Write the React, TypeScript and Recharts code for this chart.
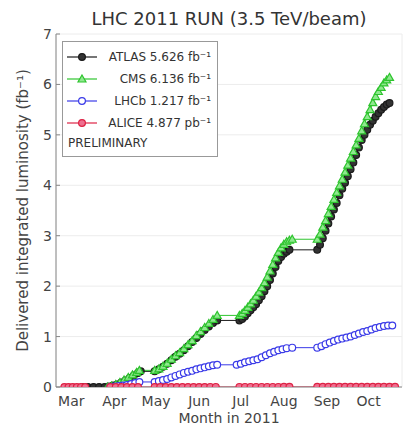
import React from "react";
import { LineChart, Line, XAxis, YAxis, CartesianGrid, Legend, Label } from "recharts";

// x values are day-of-year in 2011
const monthStarts = [91, 121, 152, 182, 213, 244, 274, 305];
const monthMids = [74, 105, 135, 166, 196, 227, 258, 288];
const monthNames = ["Mar", "Apr", "May", "Jun", "Jul", "Aug", "Sep", "Oct"];
const yTicks = [0, 1, 2, 3, 4, 5, 6, 7];

const atlasDays = [82, 86, 90, 94, 98, 101, 104, 107, 110, 113, 116, 119, 122, 124, 134, 137, 140, 143, 146, 149, 152, 155, 158, 161, 164, 167, 170, 173, 176, 179, 195, 197, 199, 201, 203, 205, 207, 209, 211, 213, 215, 217, 219, 221, 223, 225, 227, 229, 231, 251, 253, 255, 257, 259, 261, 263, 265, 267, 269, 271, 273, 275, 277, 279, 281, 283, 285, 287, 289, 291, 293, 295, 297, 299, 301, 303];
const atlasLumi = [0, 0, 0, 0, 0, 0.01, 0.03, 0.05, 0.09, 0.13, 0.18, 0.23, 0.28, 0.31, 0.31, 0.35, 0.4, 0.46, 0.53, 0.6, 0.66, 0.73, 0.81, 0.89, 0.97, 1.05, 1.13, 1.2, 1.27, 1.32, 1.32, 1.35, 1.4, 1.46, 1.52, 1.58, 1.64, 1.72, 1.8, 1.9, 2.0, 2.12, 2.25, 2.38, 2.5, 2.58, 2.64, 2.68, 2.72, 2.72, 2.82, 2.95, 3.1, 3.24, 3.38, 3.52, 3.65, 3.8, 3.93, 4.05, 4.18, 4.32, 4.45, 4.6, 4.75, 4.9, 5.0, 5.1, 5.2, 5.28, 5.36, 5.43, 5.5, 5.55, 5.6, 5.63];

const cmsDays = [100, 103, 106, 109, 112, 115, 118, 121, 123, 134, 137, 140, 143, 146, 149, 152, 155, 158, 161, 164, 167, 170, 173, 176, 179, 195, 197, 199, 201, 203, 205, 207, 209, 211, 213, 215, 217, 219, 221, 223, 225, 227, 229, 231, 233, 251, 253, 255, 257, 259, 261, 263, 265, 267, 269, 271, 273, 275, 277, 279, 281, 283, 285, 287, 289, 291, 293, 295, 297, 299, 301, 303];
const cmsLumi = [0, 0.02, 0.05, 0.09, 0.14, 0.19, 0.24, 0.29, 0.33, 0.33, 0.36, 0.41, 0.47, 0.55, 0.62, 0.68, 0.76, 0.84, 0.92, 1.02, 1.1, 1.18, 1.26, 1.34, 1.42, 1.42, 1.46, 1.52, 1.58, 1.65, 1.72, 1.8, 1.88, 1.97, 2.07, 2.18, 2.3, 2.43, 2.56, 2.67, 2.76, 2.83, 2.88, 2.91, 2.93, 2.93, 3.03, 3.17, 3.3, 3.44, 3.58, 3.72, 3.86, 3.99, 4.12, 4.26, 4.4, 4.54, 4.67, 4.8, 4.93, 5.08, 5.22, 5.36, 5.5, 5.64, 5.76, 5.86, 5.94, 6.03, 6.09, 6.14];

const lhcbDays = [102, 105, 108, 111, 114, 117, 120, 123, 134, 137, 140, 143, 146, 149, 152, 155, 158, 161, 164, 167, 170, 173, 176, 179, 193, 196, 199, 202, 205, 208, 211, 214, 217, 220, 223, 226, 229, 233, 251, 254, 257, 260, 263, 266, 269, 272, 275, 278, 281, 284, 287, 290, 293, 296, 299, 302, 305];
const lhcbLumi = [0, 0.01, 0.02, 0.03, 0.04, 0.06, 0.08, 0.1, 0.1, 0.12, 0.14, 0.16, 0.19, 0.22, 0.25, 0.28, 0.3, 0.32, 0.35, 0.37, 0.39, 0.41, 0.43, 0.44, 0.44, 0.46, 0.49, 0.51, 0.53, 0.55, 0.59, 0.63, 0.67, 0.7, 0.73, 0.75, 0.77, 0.78, 0.78, 0.81, 0.85, 0.88, 0.91, 0.94, 0.96, 0.98, 1.0, 1.03, 1.06, 1.09, 1.11, 1.14, 1.17, 1.19, 1.21, 1.22, 1.22];

const aliceDays = [69, 72, 75, 78, 81, 84, 102, 106, 110, 114, 118, 122, 134, 138, 142, 146, 150, 154, 158, 162, 166, 170, 174, 178, 195, 199, 203, 207, 211, 215, 219, 223, 227, 231, 251, 255, 259, 263, 267, 271, 275, 279, 283, 287, 291, 295, 299, 303, 307];
const aliceLumi = [0, 0, 0, 0.0001, 0.0001, 0.0001, 0.0002, 0.0002, 0.0003, 0.0003, 0.0004, 0.0004, 0.0005, 0.0006, 0.0007, 0.0008, 0.0009, 0.001, 0.0011, 0.0012, 0.0013, 0.0014, 0.0015, 0.0016, 0.0017, 0.0018, 0.0019, 0.002, 0.0021, 0.0022, 0.0023, 0.0024, 0.0025, 0.0026, 0.0027, 0.0028, 0.003, 0.0031, 0.0033, 0.0034, 0.0036, 0.0038, 0.004, 0.0042, 0.0043, 0.0045, 0.0047, 0.0048, 0.0049];

const toPoints = (days: number[], vals: number[]) => days.map((d, i) => ({ day: d, v: vals[i] }));

const series = [
  { name: "ATLAS 5.626 fb⁻¹", data: toPoints(atlasDays, atlasLumi), color: "#1a1a1a", fill: "#333", shape: "circle" },
  { name: "CMS 6.136 fb⁻¹", data: toPoints(cmsDays, cmsLumi), color: "#2ec42e", fill: "#8fe88f", shape: "triangle" },
  { name: "LHCb 1.217 fb⁻¹", data: toPoints(lhcbDays, lhcbLumi), color: "#3a3ae8", fill: "#ffffff", shape: "circle" },
  { name: "ALICE 4.877 pb⁻¹", data: toPoints(aliceDays, aliceLumi), color: "#dd2244", fill: "#ee7090", shape: "circle" },
];

const marker = (shape: string, cx: number, cy: number, stroke: string, fill: string, key?: any) =>
  shape === "triangle" ? (
    <path key={key} d={`M${cx},${cy - 4} L${cx + 4},${cy + 3} L${cx - 4},${cy + 3} Z`} stroke={stroke} strokeWidth={1.2} fill={fill} />
  ) : (
    <circle key={key} cx={cx} cy={cy} r={3.4} stroke={stroke} strokeWidth={1.2} fill={fill} />
  );

const makeDot = (shape: string, stroke: string, fill: string) => (p: any) => {
  if (p.cx == null || p.cy == null) return <g key={p.index} />;
  return marker(shape, p.cx, p.cy, stroke, fill, p.index);
};

const LegendBox = () => (
  <div style={{ border: "1px solid #999", background: "#fff", width: 156, height: 116, boxSizing: "border-box", padding: "4px 0 0 0", fontSize: 12, color: "#333" }}>
    {series.map((s) => (
      <div key={s.name} style={{ display: "flex", alignItems: "center", height: 22 }}>
        <svg width={34} height={10} style={{ marginLeft: 4 }}>
          <line x1={0} y1={5} x2={30} y2={5} stroke={s.color} strokeWidth={1.2} />
          {marker(s.shape, 15, 5, s.color, s.fill)}
        </svg>
        <div style={{ flex: 1, textAlign: "right", paddingRight: 6 }}>{s.name}</div>
      </div>
    ))}
    <div style={{ paddingLeft: 5, marginTop: 2 }}>PRELIMINARY</div>
  </div>
);

const tickStyle = { fontSize: 14, fill: "#444", fontFamily: "DejaVu Sans" };
const frame = { stroke: "#888" };

export default function App() {
  return (
    <div style={{ position: "absolute", left: 0, top: 0, width: 413, height: 426, background: "#fff", fontFamily: "DejaVu Sans" }}>
      <div style={{ position: "absolute", left: 56, top: 8, width: 346, textAlign: "center", fontSize: 18, color: "#333" }}>
        LHC 2011 RUN (3.5 TeV/beam)
      </div>
      <LineChart width={413} height={426} margin={{ top: 34, right: 11, left: 0, bottom: 0 }}>
        <CartesianGrid xAxisId="top" yAxisId="left" stroke="#ececec" />
        <XAxis xAxisId="top" orientation="top" type="number" dataKey="day" domain={[63, 312]} ticks={monthStarts}
          height={0} tickSize={-4} tickFormatter={() => ""} axisLine={frame} tickLine={frame} />
        <XAxis xAxisId="bot" orientation="bottom" type="number" dataKey="day" domain={[63, 312]} ticks={monthStarts}
          height={0} tickSize={-4} tickFormatter={() => ""} axisLine={frame} tickLine={frame} />
        <XAxis xAxisId="lab" orientation="bottom" type="number" dataKey="day" domain={[63, 312]} ticks={monthMids}
          height={39} tickLine={false} axisLine={frame} tick={tickStyle} tickMargin={3}
          tickFormatter={(d: number) => monthNames[monthMids.indexOf(d)] ?? ""}>
          <Label value="Month in 2011" position="insideBottom" offset={3} style={{ fontSize: 14, fill: "#444", fontFamily: "DejaVu Sans" }} />
        </XAxis>
        <YAxis yAxisId="left" type="number" domain={[0, 7]} ticks={yTicks} width={56} tickSize={-4} tickMargin={8}
          allowDataOverflow axisLine={frame} tickLine={frame} tick={tickStyle}>
          <Label value="Delivered integrated luminosity (fb⁻¹)" angle={-90} position="center" dx={-5}
            style={{ fontSize: 15, fill: "#444", fontFamily: "DejaVu Sans", textAnchor: "middle" }} />
        </YAxis>
        <YAxis yAxisId="right" orientation="right" type="number" domain={[0, 7]} ticks={yTicks} width={0} tickSize={-4}
          tickFormatter={() => ""} axisLine={frame} tickLine={frame} />
        {series.map((s) => (
          <Line key={s.name} xAxisId="lab" yAxisId="left" data={s.data} dataKey="v" name={s.name} type="linear"
            stroke={s.color} strokeWidth={1} dot={makeDot(s.shape, s.color, s.fill)} activeDot={false}
            isAnimationActive={false} />
        ))}
        <Legend content={() => <LegendBox />} layout="vertical" verticalAlign="middle" align="center"
          wrapperStyle={{ top: 41, left: 62, width: 156, height: 116 }} />
      </LineChart>
    </div>
  );
}
